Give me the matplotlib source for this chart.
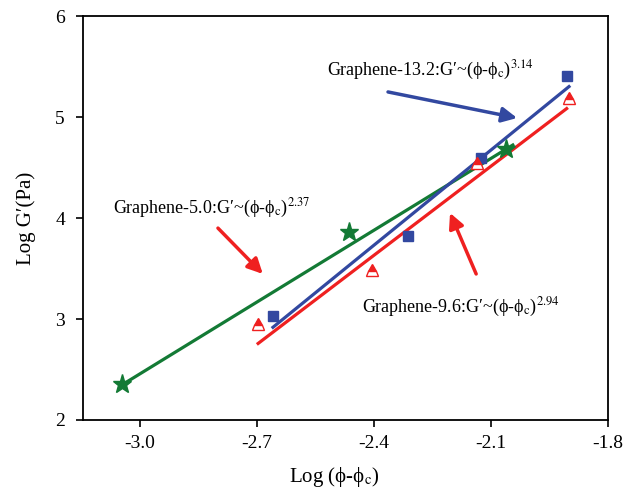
import matplotlib
matplotlib.use("Agg")
import matplotlib.pyplot as plt
import numpy as np

plt.rcParams['font.family'] = ['Liberation Serif', 'DejaVu Serif']
plt.rcParams['mathtext.fontset'] = 'stix'

# Data
g50_x = [-3.046, -2.464, -2.062]
g50_y = [2.356, 3.86, 4.68]
g96_x = [-2.697, -2.405, -2.136, -1.900]
g96_y = [2.95, 3.485, 4.545, 5.19]
g132_x = [-2.659, -2.313, -2.126, -1.905]
g132_y = [3.03, 3.82, 4.59, 5.41]

# Fits: exponent (slope), intercept, x range
fit50 = (2.37, 9.567, [-3.046, -2.044])
fit96 = (2.94, 10.687, [-2.697, -1.906])
fit132 = (3.14, 11.267, [-2.659, -1.900])

green = '#137a35'
blue = '#3248a0'
red = '#ef2020'

fig = plt.figure(figsize=(6.25, 4.9), dpi=100)
ax = fig.add_axes([83/625, 1-420/490, 525/625, 404/490])

for (s, b, xr), c in [(fit50, green), (fit132, blue), (fit96, red)]:
    xx = np.array(xr)
    ax.plot(xx, s * xx + b, color=c, lw=2.3, zorder=2)

ax.plot(g132_x, g132_y, 's', color=blue, ms=7, zorder=3)
ax.plot(g96_x, g96_y, '^', color=red, ms=9, fillstyle='top',
        markerfacecoloralt='white', markeredgewidth=1.0, zorder=3)
ax.plot(g50_x, g50_y, '*', color=green, ms=14, zorder=4)

fs = 13
ax.text(-2.521, 5.465, 'Graphene-13.2:G′~(ϕ-ϕ$_\\mathrm{c}$)$^{3.14}$', fontsize=fs, va='center')
ax.text(-3.069, 4.09, 'Graphene-5.0:G′~(ϕ-ϕ$_\\mathrm{c}$)$^{2.37}$', fontsize=fs, va='center')
ax.text(-2.431, 3.11, 'Graphene-9.6:G′~(ϕ-ϕ$_\\mathrm{c}$)$^{2.94}$', fontsize=fs, va='center')

aprops = lambda c: dict(arrowstyle='-|>,head_length=0.9,head_width=0.45', lw=2.5,
                        color=c, shrinkA=0, shrinkB=0)
ax.annotate('', xy=(-2.033, 4.99), xytext=(-2.364, 5.248), arrowprops=aprops(blue))
ax.annotate('', xy=(-2.685, 3.446), xytext=(-2.80, 3.90), arrowprops=aprops(red))
ax.annotate('', xy=(-2.205, 4.05), xytext=(-2.138, 3.446), arrowprops=aprops(red))

ax.set_xlim(-3.146, -1.8)
ax.set_ylim(2, 6)
ax.set_xticks([-3.0, -2.7, -2.4, -2.1, -1.8])
ax.set_xticklabels(['-3.0', '-2.7', '-2.4', '-2.1', '-1.8'])
ax.set_yticks([2, 3, 4, 5, 6])
ax.tick_params(labelsize=14, direction='out', length=5, width=1.2)
ax.tick_params(axis='x', pad=6)
ax.tick_params(axis='y', pad=8)
for sp in ax.spines.values():
    sp.set_linewidth(1.3)
ax.set_xlabel('Log (ϕ-ϕ$_\\mathrm{c}$)', fontsize=15)
ax.xaxis.set_label_coords(0.478, -0.112)
ax.set_ylabel('Log G′(Pa)', fontsize=15, labelpad=14)

fig.savefig('out.png', dpi=100)
